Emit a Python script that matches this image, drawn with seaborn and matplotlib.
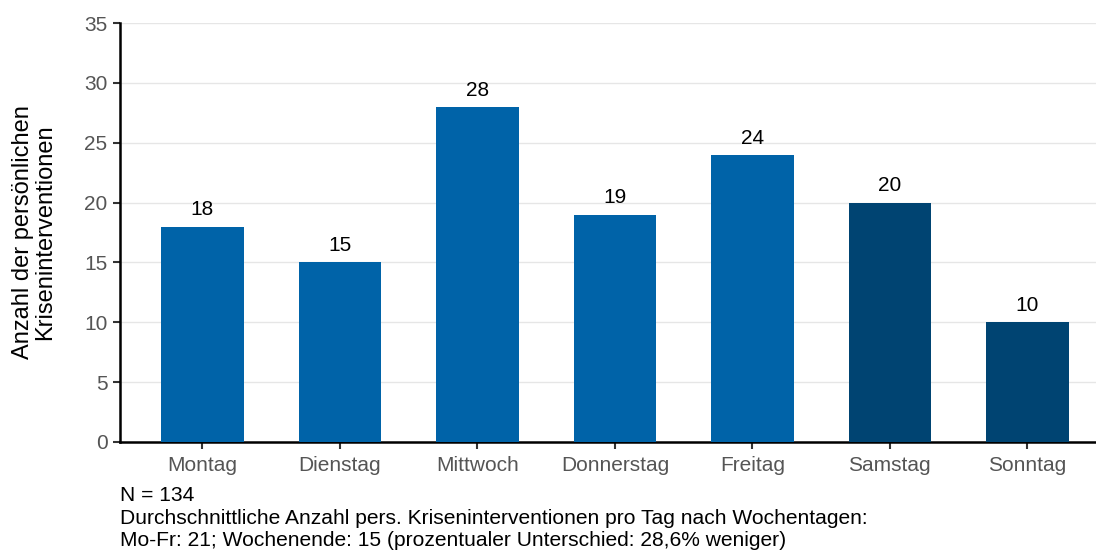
import numpy as np
import pandas as pd
import matplotlib
matplotlib.use("Agg")
import matplotlib.pyplot as plt
import seaborn as sns

days = ["Montag", "Dienstag", "Mittwoch", "Donnerstag", "Freitag", "Samstag", "Sonntag"]
counts = [18, 15, 28, 19, 24, 20, 10]
day_type = ["Werktag"] * 5 + ["Wochenende"] * 2

ylabel = "Anzahl der persönlichen\nKriseninterventionen"
notes = [
    "N = 134",
    "Durchschnittliche Anzahl pers. Kriseninterventionen pro Tag nach Wochentagen:",
    "Mo-Fr: 21; Wochenende: 15 (prozentualer Unterschied: 28,6% weniger)",
]

sns.set_theme(style="white")
plt.rcParams["font.family"] = ["Liberation Sans", "DejaVu Sans"]

df = pd.DataFrame({"Tag": days, "Anzahl": counts, "Typ": day_type})
palette = {"Werktag": "#0063a8", "Wochenende": "#004472"}

fig = plt.figure(figsize=(10.96, 5.52), dpi=100)
ax = fig.add_axes([0.1095, 0.1993, 0.8905, 0.759])

sns.barplot(data=df, x="Tag", y="Anzahl", hue="Typ", palette=palette,
            dodge=False, width=0.6, legend=False, saturation=1,
            linewidth=0, ax=ax, zorder=3)

for i, v in enumerate(counts):
    ax.text(i, v + 0.6, str(v), ha="center", va="bottom", fontsize=15, color="black")

ax.set_xlim(-0.6, 6.5)
ax.set_ylim(0, 35)
ax.set_yticks(np.arange(0, 36, 5))
ax.yaxis.grid(True, color="#e6e6e6", lw=1, zorder=0)
ax.set_axisbelow(True)

for s in ["top", "right"]:
    ax.spines[s].set_visible(False)
ax.spines["left"].set_color("black")
ax.spines["left"].set_linewidth(1.8)
ax.spines["bottom"].set_color("black")
ax.spines["bottom"].set_linewidth(1.8)

ax.tick_params(axis="both", which="both", direction="out", length=5, width=1.5,
               bottom=True, left=True,
               colors="#333333", labelsize=15, labelcolor="#555555")
ax.tick_params(axis="x", pad=5)
ax.tick_params(axis="y", pad=4)
ax.set_xlabel("")
ax.set_ylabel(ylabel, fontsize=17, color="black", labelpad=20, linespacing=1.0)

fig.text(0.1095, 0.103, notes[0], fontsize=15.1, color="black", va="center")
fig.text(0.1095, 0.060, notes[1], fontsize=15.1, color="black", va="center")
fig.text(0.1095, 0.020, notes[2], fontsize=15.1, color="black", va="center")

fig.savefig("out.png", dpi=100)
